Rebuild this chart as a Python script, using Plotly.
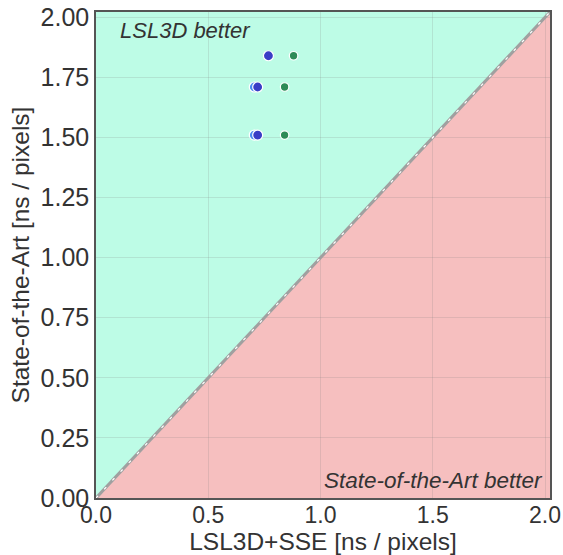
import plotly.graph_objects as go

# Axis extent shared by both axes
axis_max = 2.022

# Run-time measurements [ns / pixels]: (LSL3D+SSE, State-of-the-Art)
lsl_dark_x = [0.768, 0.72, 0.72]
lsl_dark_y = [1.84, 1.71, 1.51]
lsl_light_x = [0.705, 0.705]
lsl_light_y = [1.71, 1.51]
sse_green_x = [0.88, 0.84, 0.84]
sse_green_y = [1.84, 1.71, 1.51]

x_ticks = [0.0, 0.5, 1.0, 1.5, 2.0]
y_ticks = [0.0, 0.25, 0.5, 0.75, 1.0, 1.25, 1.5, 1.75, 2.0]

fig = go.Figure()

# Region shading: above diagonal (LSL3D better) and below (State-of-the-Art better)
fig.add_shape(type="path", xref="x", yref="y", layer="below",
              path=f"M 0 0 L {axis_max} {axis_max} L 0 {axis_max} Z",
              fillcolor="#BDFCE6", line=dict(width=0))
fig.add_shape(type="path", xref="x", yref="y", layer="below",
              path=f"M 0 0 L {axis_max} {axis_max} L {axis_max} 0 Z",
              fillcolor="#F6BFBF", line=dict(width=0))

# Diagonal parity line
fig.add_trace(go.Scatter(x=[0, axis_max], y=[0, axis_max], mode="lines",
                         line=dict(color="#A0A0A0", width=3), hoverinfo="skip",
                         showlegend=False))
fig.add_trace(go.Scatter(x=[0, axis_max], y=[0, axis_max], mode="lines",
                         line=dict(color="white", width=1.2, dash="3px,9px"),
                         hoverinfo="skip", showlegend=False))

marker_line = dict(color="white", width=1.2)
fig.add_trace(go.Scatter(x=lsl_light_x, y=lsl_light_y, mode="markers",
                         marker=dict(color="#4A8CF0", size=10, line=marker_line),
                         showlegend=False))
fig.add_trace(go.Scatter(x=lsl_dark_x, y=lsl_dark_y, mode="markers",
                         marker=dict(color="#3A3DC6", size=10, line=marker_line),
                         showlegend=False))
fig.add_trace(go.Scatter(x=sse_green_x, y=sse_green_y, mode="markers",
                         marker=dict(color="#2E8B57", size=8.5, line=marker_line),
                         showlegend=False))

fig.add_annotation(x=0.1, y=2.005, xref="x", yref="y", text="<i>LSL3D better</i>",
                   showarrow=False, xanchor="left", yanchor="top",
                   font=dict(size=22, color="#333333"))
fig.add_annotation(x=2.0, y=0.012, xref="x", yref="y",
                   text="<i>State-of-the-Art better</i>",
                   showarrow=False, xanchor="right", yanchor="bottom",
                   font=dict(size=22.5, color="#333333"))

axis_common = dict(range=[0, axis_max], showgrid=True, automargin=False,
                   gridcolor="rgba(120,120,120,0.18)", gridwidth=1,
                   zeroline=False, showline=True, linecolor="#555555",
                   linewidth=1.5, mirror=True, ticks="")

fig.update_xaxes(**axis_common, tickvals=x_ticks,
                 ticktext=[f"{v:.1f}" for v in x_ticks],
                 tickfont=dict(size=23, color="#333333"), ticklabelstandoff=-4,
                 title=dict(text="LSL3D+SSE [ns / pixels]", standoff=4,
                            font=dict(size=24.5, color="#333333")))
fig.update_yaxes(**axis_common, tickvals=y_ticks,
                 ticktext=[f"{v:.2f}" for v in y_ticks],
                 tickfont=dict(size=25, color="#333333"),
                 title=dict(text="State-of-the-Art [ns / pixels]", standoff=4,
                            font=dict(size=24.5, color="#333333")))

fig.update_layout(width=563, height=555,
                  margin=dict(l=96, r=13, t=12, b=57, autoexpand=False),
                  plot_bgcolor="white", paper_bgcolor="white",
                  font=dict(family="Arial"))

fig.write_html("out.html")
